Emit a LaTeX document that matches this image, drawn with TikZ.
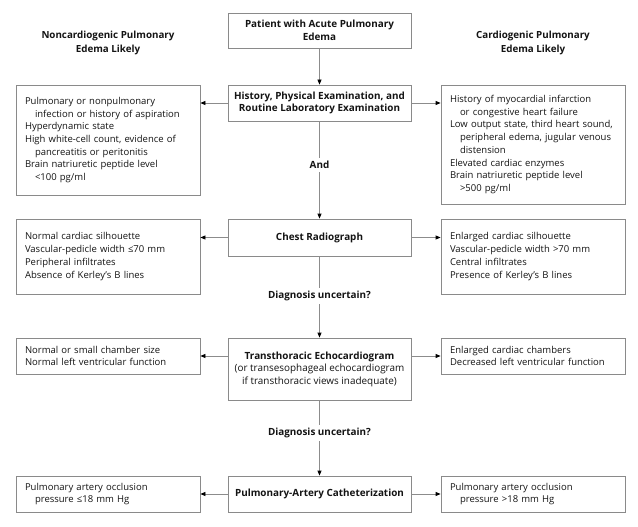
\documentclass[tikz,border=0pt]{standalone}
\usepackage{fontspec}
\setmainfont{Open Sans}
\usetikzlibrary{arrows.meta}
\definecolor{boxgray}{HTML}{8A8A8A}
\definecolor{linegray}{HTML}{8C8C8C}
\definecolor{txt}{HTML}{141414}
\newcommand{\ind}{\hspace*{10pt}}
\begin{document}
\begin{tikzpicture}[x=1pt,y=-1pt,
  every node/.style={text=txt},
  cbox/.style={draw=boxgray, line width=0.8pt, minimum width=183pt, align=center,
    font=\fontsize{9.9}{12.5}\selectfont\bfseries, inner sep=2pt},
  sbox/.style={draw=boxgray, line width=0.8pt, text width=166pt, inner xsep=9pt, inner ysep=2pt,
    align=left, font=\fontsize{9.5}{12.7}\selectfont},
  hdr/.style={align=center, font=\fontsize{9.8}{14}\selectfont\bfseries},
  lbl/.style={fill=white, font=\fontsize{9.9}{12}\selectfont\bfseries, inner sep=3pt},
  arr/.style={draw=linegray, line width=0.8pt, -{Triangle[length=5pt,width=4pt,color=black]}}
]
\useasboundingbox (0,0) rectangle (638,527);
\fill[white] (0,0) rectangle (638,527);

% headers
\node[hdr] (hl) at (108,43) {Noncardiogenic Pulmonary\\Edema Likely};
\node[hdr] (hr) at (533,43) {Cardiogenic Pulmonary\\Edema Likely};

% center column
\node[cbox, minimum height=35pt] (pat) at (319.5,30.5) {Patient with Acute Pulmonary\\Edema};
\node[cbox, minimum height=36pt] (hist) at (319.5,103) {History, Physical Examination, and\\Routine Laboratory Examination};
\node[cbox, minimum height=37pt] (chest) at (319.5,237.5) {Chest Radiograph};
\node[cbox, minimum height=62pt] (echo) at (319.5,369) {Transthoracic Echocardiogram\\{\mdseries (or transesophageal echocardiogram}\\{\mdseries if transthoracic views inadequate)}};
\node[cbox, minimum height=36pt] (pa) at (319.5,494) {Pulmonary-Artery Catheterization};

% left column
\node[sbox, minimum height=110pt] (l1) at (108,140) {Pulmonary or nonpulmonary\\\ind infection or history of aspiration\\Hyperdynamic state\\High white-cell count, evidence of\\\ind pancreatitis or peritonitis\\Brain natriuretic peptide level\\\ind <100 pg/ml};
\node[sbox, minimum height=75pt] (l2) at (108,256.5) {Normal cardiac silhouette\\Vascular-pedicle width ≤70 mm\\Peripheral infiltrates\\Absence of Kerley’s B lines};
\node[sbox, minimum height=36pt] (l3) at (108,356) {Normal or small chamber size\\Normal left ventricular function};
\node[sbox, minimum height=36pt] (l4) at (108,494) {Pulmonary artery occlusion\\\ind pressure ≤18 mm Hg};

% right column
\node[sbox, minimum height=119pt] (r1) at (533,144.5) {History of myocardial infarction\\\ind or congestive heart failure\\Low output state, third heart sound,\\\ind peripheral edema, jugular venous\\\ind distension\\Elevated cardiac enzymes\\Brain natriuretic peptide level\\\ind >500 pg/ml};
\node[sbox, minimum height=75pt] (r2) at (533,256.5) {Enlarged cardiac silhouette\\Vascular-pedicle width >70 mm\\Central infiltrates\\Presence of Kerley’s B lines};
\node[sbox, minimum height=36pt] (r3) at (533,356) {Enlarged cardiac chambers\\Decreased left ventricular function};
\node[sbox, minimum height=36pt] (r4) at (533,494) {Pulmonary artery occlusion\\\ind pressure >18 mm Hg};

% vertical flow
\draw[arr] (pat) -- (hist);
\draw[arr] (hist) -- node[lbl, pos=0.45] (and) {And} (chest);
\draw[arr] (chest) -- node[lbl, pos=0.49] (du1) {Diagnosis uncertain?} (echo);
\draw[arr] (echo) -- node[lbl, pos=0.43] (du2) {Diagnosis uncertain?} (pa);

% horizontal arrows
\draw[arr] (hist.west) -- (hist.west -| l1.east);
\draw[arr] (hist.east) -- (hist.east -| r1.west);
\draw[arr] (chest.west) -- (chest.west -| l2.east);
\draw[arr] (chest.east) -- (chest.east -| r2.west);
\draw[arr] (echo.west |- l3.east) -- (l3.east);
\draw[arr] (echo.east |- r3.west) -- (r3.west);
\draw[arr] (pa.west) -- (pa.west -| l4.east);
\draw[arr] (pa.east) -- (pa.east -| r4.west);
\end{tikzpicture}
\end{document}
